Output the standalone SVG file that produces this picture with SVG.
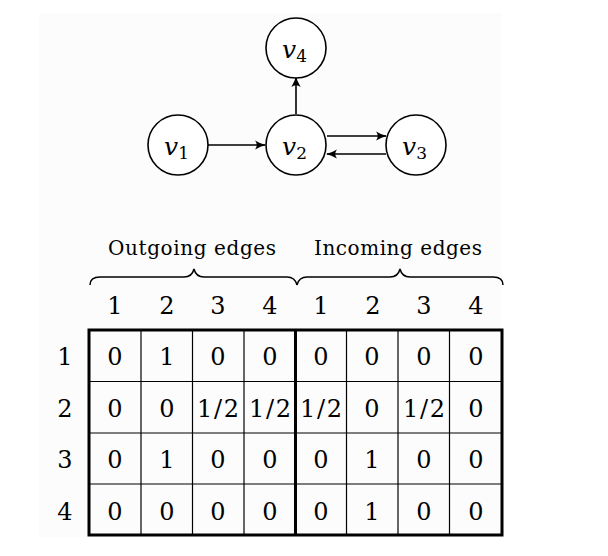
<svg xmlns="http://www.w3.org/2000/svg" width="608" height="556" viewBox="0 0 608 556">
<style>
.node circle{fill:#fff;stroke:#000;stroke-width:1.6}
.lbl{font-family:"DejaVu Serif","Liberation Serif",serif;font-style:italic;font-size:25px;fill:#000}
.sub{font-style:normal;font-size:17px}
.edge{stroke:#000;stroke-width:1.6;fill:none;marker-end:url(#ah)}
.t{font-family:"DejaVu Serif","Liberation Serif",serif;font-size:24px;text-anchor:middle;fill:#000}
.h{font-family:"DejaVu Serif","Liberation Serif",serif;font-size:20px;text-anchor:middle;fill:#000}
.thin{stroke:#000;stroke-width:1.2}
.thick{stroke:#000;stroke-width:3;fill:none}
.brace{stroke:#000;stroke-width:1.5;fill:none}
</style>
<defs>
<marker id="ah" viewBox="0 0 10 10" refX="9" refY="5" markerWidth="11" markerHeight="11" markerUnits="userSpaceOnUse" orient="auto">
<path d="M0,0.8 Q5,4 10,5 Q5,6 0,9.2 Q3,5 0,0.8Z" fill="#000"/>
</marker>
</defs>
<rect x="0" y="0" width="608" height="556" fill="#fff"/>
<rect x="39" y="13" width="463" height="524" fill="#fcfcfc"/>
<g id="connectors">
<line class="edge" x1="208" y1="145" x2="265" y2="145"/>
<line class="edge" x1="296" y1="114" x2="296" y2="77"/>
<line class="edge" x1="327" y1="136" x2="386" y2="136"/>
<line class="edge" x1="386" y1="154" x2="327" y2="154"/>
</g>
<g id="v4" class="node"><circle cx="296" cy="48" r="30"/><text class="lbl" x="282" y="58">v<tspan class="sub" dy="4">4</tspan></text></g>
<g id="v1" class="node"><circle cx="178" cy="145" r="30"/><text class="lbl" x="164" y="155">v<tspan class="sub" dy="4">1</tspan></text></g>
<g id="v2" class="node"><circle cx="296" cy="145" r="30"/><text class="lbl" x="282" y="155">v<tspan class="sub" dy="4">2</tspan></text></g>
<g id="v3" class="node"><circle cx="416" cy="145" r="30"/><text class="lbl" x="402" y="155">v<tspan class="sub" dy="4">3</tspan></text></g>
<g id="headers">
<text class="h" x="192" y="255" textLength="168">Outgoing edges</text>
<text class="h" x="398" y="255" textLength="168">Incoming edges</text>
<path class="brace" d="M90,285 Q90,277 100,277 L184,277 Q192,277 194,269 Q196,277 204,277 L287,277 Q295,277 297,285"/>
<path class="brace" d="M297,285 Q299,277 307,277 L390,277 Q398,277 400,269 Q402,277 410,277 L493,277 Q503,277 503,285"/>
<g>
<text class="t" x="115" y="314">1</text><text class="t" x="167" y="314">2</text><text class="t" x="218" y="314">3</text><text class="t" x="270" y="314">4</text>
<text class="t" x="321" y="314">1</text><text class="t" x="373" y="314">2</text><text class="t" x="424" y="314">3</text><text class="t" x="476" y="314">4</text>
</g>
<g>
<text class="t" x="65" y="365">1</text><text class="t" x="65" y="417">2</text><text class="t" x="65" y="468">3</text><text class="t" x="65" y="520">4</text>
</g>
</g>
<g id="table">
<g class="thin">
<line x1="141" y1="330" x2="141" y2="535"/><line x1="192.5" y1="330" x2="192.5" y2="535"/><line x1="244" y1="330" x2="244" y2="535"/>
<line x1="346.5" y1="330" x2="346.5" y2="535"/><line x1="398" y1="330" x2="398" y2="535"/><line x1="449.5" y1="330" x2="449.5" y2="535"/>
<line x1="89" y1="381.5" x2="502" y2="381.5"/><line x1="89" y1="433" x2="502" y2="433"/><line x1="89" y1="484" x2="502" y2="484"/>
</g>
<rect class="thick" x="89" y="330" width="413" height="205"/>
<line class="thick" x1="295.5" y1="330" x2="295.5" y2="535"/>
<g>
<text class="t" x="115" y="365">0</text><text class="t" x="167" y="365">1</text><text class="t" x="218" y="365">0</text><text class="t" x="270" y="365">0</text><text class="t" x="321" y="365">0</text><text class="t" x="372" y="365">0</text><text class="t" x="424" y="365">0</text><text class="t" x="476" y="365">0</text>
<text class="t" x="115" y="417">0</text><text class="t" x="167" y="417">0</text><text class="t" x="218" y="417" textLength="42">1/2</text><text class="t" x="270" y="417" textLength="42">1/2</text><text class="t" x="321" y="417" textLength="42">1/2</text><text class="t" x="372" y="417">0</text><text class="t" x="424" y="417" textLength="42">1/2</text><text class="t" x="476" y="417">0</text>
<text class="t" x="115" y="468">0</text><text class="t" x="167" y="468">1</text><text class="t" x="218" y="468">0</text><text class="t" x="270" y="468">0</text><text class="t" x="321" y="468">0</text><text class="t" x="372" y="468">1</text><text class="t" x="424" y="468">0</text><text class="t" x="476" y="468">0</text>
<text class="t" x="115" y="520">0</text><text class="t" x="167" y="520">0</text><text class="t" x="218" y="520">0</text><text class="t" x="270" y="520">0</text><text class="t" x="321" y="520">0</text><text class="t" x="372" y="520">1</text><text class="t" x="424" y="520">0</text><text class="t" x="476" y="520">0</text>
</g>
</g>
</svg>
